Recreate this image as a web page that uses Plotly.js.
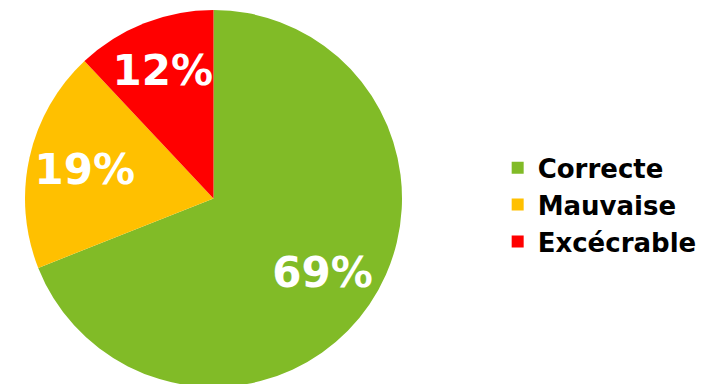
<!DOCTYPE html>
<html><head><meta charset="utf-8">
<script src="https://cdn.plot.ly/plotly-3.0.1.min.js"></script>
<style>html,body{margin:0;padding:0;overflow:hidden;background:#fff;width:713px;height:384px}</style>
</head><body><div id="chart" style="width:713px;height:400px"></div>
<script>
const categories = ["Correcte", "Mauvaise", "Excécrable"];
const values = [69, 19, 12];
const colors = ["#81BB27", "#FFC000", "#FF0000"];

const pieDomain = {x: [0, 427/713], y: [0, 1]};
const labelFont = {family: "DejaVu Sans", size: 42, color: "#ffffff", weight: "bold"};

Plotly.newPlot("chart", [{
  type: "pie",
  labels: categories,
  values: values,
  sort: false,
  direction: "clockwise",
  rotation: 0,
  marker: {colors: colors, line: {width: 0}},
  textinfo: "none",
  domain: pieDomain,
  hoverinfo: "none"
}, {
  type: "pie",
  labels: categories,
  values: values,
  sort: false,
  direction: "clockwise",
  rotation: 0,
  hole: 0.4,
  showlegend: false,
  marker: {colors: ["rgba(0,0,0,0)", "rgba(0,0,0,0)", "rgba(0,0,0,0)"], line: {width: 0}},
  texttemplate: "%{percent:.0%}",
  textposition: "inside",
  insidetextorientation: "horizontal",
  textfont: labelFont,
  domain: pieDomain,
  hoverinfo: "none"
}], {
  width: 713, height: 400,
  margin: {l: 0, r: 0, t: 10, b: 13},
  showlegend: true,
  uniformtext: {mode: "show", minsize: 42},
  legend: {x: 0.698, xanchor: "left", y: 0.483, yanchor: "middle",
    font: {family: "DejaVu Sans", size: 26, color: "#000", weight: "bold"}},
  paper_bgcolor: "#fff"
}, {staticPlot: true, displayModeBar: false});
</script></body></html>
